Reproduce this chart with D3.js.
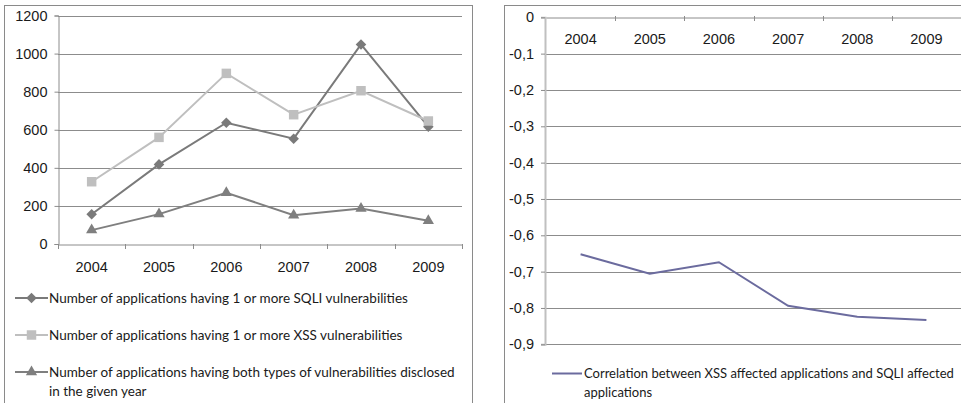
<!DOCTYPE html>
<html>
<head>
<meta charset="utf-8">
<script src="https://cdn.jsdelivr.net/npm/d3@7"></script>
<style>
    body { margin: 0; background: #fff; }
    svg { display: block; font-family: Lato, "Open Sans", sans-serif; }
</style>
</head>
<body>
<svg id="chart" width="961" height="403"></svg>
<script>
// data
const years = ['2004', '2005', '2006', '2007', '2008', '2009'];
const sqliApps = [156, 418, 637, 553, 1048, 616];
const xssApps = [327, 560, 896, 679, 805, 646];
const bothApps = [73, 157, 269, 151, 187, 122];
const correlation = [-0.652, -0.706, -0.674, -0.794, -0.824, -0.833];
const leftTicks = [0, 200, 400, 600, 800, 1000, 1200];
const rightTicks = [0, -0.1, -0.2, -0.3, -0.4, -0.5, -0.6, -0.7, -0.8, -0.9];

const legendLeft = [
    'Number of applications having 1 or more SQLI vulnerabilities',
    'Number of applications having 1 or more XSS vulnerabilities',
    ['Number of applications having both types of vulnerabilities disclosed', 'in the given year'],
];
const legendRight = ['Correlation between XSS affected applications and SQLI affected', 'applications'];

const svg = d3.select('#chart');
const gridColor = '#8c8c8c';
const textColor = '#1a1a1a';
const tickFont = '14.5px';
const legendFont = '13.5px';

// ---- left chart ----
svg.append('rect')
    .attr('x', 4.5).attr('y', 5.5)
    .attr('width', 468).attr('height', 402)
    .attr('fill', 'none').attr('stroke', '#8a8a8a');

const xL = d3.scaleBand().domain(years).range([58, 462]);
const yL = d3.scaleLinear().domain([0, 1200]).range([244, 15.5]);

const left = svg.append('g');

// grid
left.selectAll('line.grid')
    .data(leftTicks.filter((t) => t > 0))
    .join('line')
    .attr('class', 'grid')
    .attr('x1', 58).attr('x2', 462)
    .attr('y1', (d) => Math.round(yL(d)) + 0.5)
    .attr('y2', (d) => Math.round(yL(d)) + 0.5)
    .attr('stroke', gridColor);

const yAxisL = d3.axisLeft(yL).tickValues(leftTicks).tickSize(4).tickPadding(7).tickFormat(d3.format('d'));
left.append('g')
    .attr('transform', 'translate(58.5,0)')
    .call(yAxisL)
    .call((g) => {
        g.select('.domain').attr('stroke', gridColor);
        g.selectAll('.tick line').attr('stroke', gridColor);
        g.selectAll('text').attr('fill', textColor).style('font-size', tickFont);
    });

const xAxisL = d3.axisBottom(xL).tickSize(0).tickPadding(17);
left.append('g')
    .attr('transform', 'translate(0,244.5)')
    .call(xAxisL)
    .call((g) => {
        g.select('.domain').attr('stroke', gridColor);
        g.selectAll('text').attr('fill', textColor).style('font-size', tickFont);
    });
// category boundary ticks
left.selectAll('line.xtick')
    .data(years.concat(['end']))
    .join('line')
    .attr('class', 'xtick')
    .attr('x1', (d, i) => Math.round(58 + i * xL.step()) + 0.5)
    .attr('x2', (d, i) => Math.round(58 + i * xL.step()) + 0.5)
    .attr('y1', 244).attr('y2', 249)
    .attr('stroke', gridColor);

const lineL = (vals) => d3.line()
    .x((d, i) => xL(years[i]) + xL.bandwidth() / 2)
    .y((d) => yL(d))(vals);

const sqliSeries = { values: sqliApps, color: '#7a7a7a', symbol: d3.symbolSquare, size: 56, rotate: 45 };
const xssSeries = { values: xssApps, color: '#bfbfbf', symbol: d3.symbolSquare, size: 90, rotate: 0 };
const bothSeries = { values: bothApps, color: '#7f7f7f', symbol: d3.symbolTriangle, size: 55, rotate: 0 };
const series = [sqliSeries, xssSeries, bothSeries];

series.forEach((s) => {
    left.append('path')
        .attr('d', lineL(s.values))
        .attr('fill', 'none')
        .attr('stroke', s.color)
        .attr('stroke-width', 2);
    left.selectAll(null)
        .data(s.values)
        .join('path')
        .attr('d', d3.symbol(s.symbol, s.size))
        .attr('transform', (d, i) => `translate(${xL(years[i]) + xL.bandwidth() / 2},${yL(d)}) rotate(${s.rotate})`)
        .attr('fill', s.color);
});

// legend left
const legendY = [298, 335, 372];
series.forEach((s, i) => {
    const g = left.append('g').attr('transform', `translate(0,${legendY[i]})`);
    g.append('line')
        .attr('x1', 15).attr('x2', 48)
        .attr('y1', 0).attr('y2', 0)
        .attr('stroke', s.color).attr('stroke-width', 2);
    g.append('path')
        .attr('d', d3.symbol(s.symbol, s.size))
        .attr('transform', `translate(31.5,0) rotate(${s.rotate})`)
        .attr('fill', s.color);
    const lines = Array.isArray(legendLeft[i]) ? legendLeft[i] : [legendLeft[i]];
    g.selectAll('text')
        .data(lines)
        .join('text')
        .attr('x', 49)
        .attr('y', (d, j) => j * 19)
        .attr('dy', '0.35em')
        .attr('fill', textColor)
        .style('font-size', legendFont)
        .text((d) => d);
});

// ---- right chart ----
svg.append('rect')
    .attr('x', 504.5).attr('y', 5.5)
    .attr('width', 470).attr('height', 402)
    .attr('fill', 'none').attr('stroke', '#8a8a8a');

const xR = d3.scaleBand().domain(years).range([546, 961]);
const yR = d3.scaleLinear().domain([-0.9, 0]).range([344.3, 17.3]);
const right = svg.append('g');

right.selectAll('line.grid')
    .data(rightTicks.filter((t) => t < 0))
    .join('line')
    .attr('class', 'grid')
    .attr('x1', 546).attr('x2', 961)
    .attr('y1', (d) => Math.round(yR(d)) + 0.5)
    .attr('y2', (d) => Math.round(yR(d)) + 0.5)
    .attr('stroke', gridColor);

const fmtComma = (d) => (d === 0 ? '0' : d3.format('.1f')(d).replace('.', ',').replace('−', '-'));
right.append('g')
    .attr('transform', 'translate(545,0)')
    .call(d3.axisLeft(yR).tickValues(rightTicks).tickSize(4).tickPadding(7).tickFormat(fmtComma))
    .call((g) => {
        g.select('.domain').attr('stroke', '#c0c0c0').attr('stroke-width', 2);
        g.selectAll('.tick line').attr('stroke', gridColor);
        g.selectAll('text').attr('fill', textColor).style('font-size', tickFont);
    });

right.append('g')
    .attr('transform', 'translate(0,17.5)')
    .call(d3.axisBottom(xR).tickSize(0).tickPadding(16))
    .call((g) => {
        g.select('.domain').attr('stroke', gridColor);
        g.selectAll('text').attr('fill', textColor).style('font-size', tickFont);
    });
right.selectAll('line.xtick')
    .data(years)
    .join('line')
    .attr('class', 'xtick')
    .attr('x1', (d) => Math.round(xR(d) + xR.step()) + 0.5)
    .attr('x2', (d) => Math.round(xR(d) + xR.step()) + 0.5)
    .attr('y1', 16).attr('y2', 21)
    .attr('stroke', gridColor);

right.append('path')
    .attr('d', d3.line()
        .x((d, i) => xR(years[i]) + xR.bandwidth() / 2)
        .y((d) => yR(d))(correlation))
    .attr('fill', 'none')
    .attr('stroke', '#6b6b9e')
    .attr('stroke-width', 2);

const lgR = right.append('g').attr('transform', 'translate(0,373.5)');
lgR.append('line')
    .attr('x1', 552).attr('x2', 582)
    .attr('y1', 0).attr('y2', 0)
    .attr('stroke', '#6b6b9e').attr('stroke-width', 2);
lgR.selectAll('text')
    .data(legendRight)
    .join('text')
    .attr('x', 584)
    .attr('y', (d, j) => j * 19)
    .attr('dy', '0.35em')
    .attr('fill', textColor)
    .style('font-size', '13px')
    .text((d) => d);
</script>
</body>
</html>
